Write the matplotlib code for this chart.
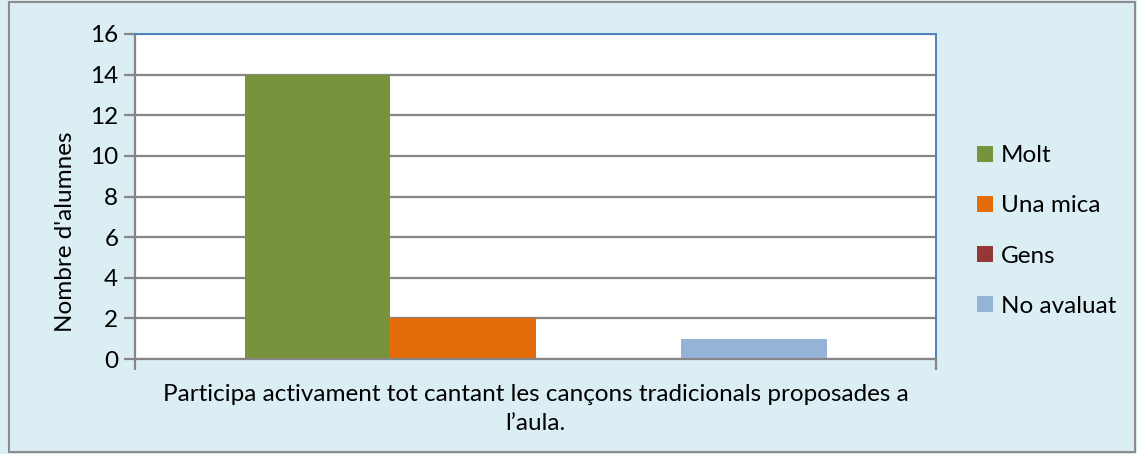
import matplotlib.pyplot as plt
from matplotlib.patches import Rectangle

# data
categoria = "Participa activament tot cantant les cançons tradicionals proposades a\nl’aula."
series = ["Molt", "Una mica", "Gens", "No avaluat"]
valors = [14, 2, 0, 1]
colors = ["#77933C", "#E46C0A", "#953735", "#95B3D7"]

plt.rcParams['font.family'] = ['Lato', 'DejaVu Sans']
fs = 17.5

fig = plt.figure(figsize=(11.37, 4.54), dpi=100)
fig.patch.set_facecolor("#DBEEF4")
# outer frame of the chart
fig.patches.append(Rectangle((9 / 1137, 2 / 454), 1126 / 1137, 450 / 454, transform=fig.transFigure,
                             fill=False, edgecolor="#8C8C8C", linewidth=1.5))

ax = fig.add_axes([135 / 1137, 1 - 359 / 454, 801 / 1137, 325 / 454])
ax.set_facecolor("white")

w = 145.5 / 801
for i, (nom, v, c) in enumerate(zip(series, valors, colors)):
    ax.bar(0.5 + (i - 1.5) * w, v, width=w, color=c, label=nom, zorder=3)

ax.set_xlim(0, 1)
ax.set_ylim(0, 16)
ax.set_yticks(range(0, 17, 2))
ax.yaxis.grid(True, color="#868686", linewidth=1.6, zorder=0)
ax.set_xticks([0.5])
ax.set_xticklabels([categoria], fontsize=fs, linespacing=1.5)
ax.set_xticks([0, 1], minor=True)
ax.tick_params(axis='x', which='major', length=0, pad=18)
ax.tick_params(axis='x', which='minor', length=8, width=1.6, color="#868686")
ax.tick_params(axis='y', length=8, width=1.6, color="#868686", labelsize=fs, pad=4)
ax.set_ylabel("Nombre d'alumnes", fontsize=fs)
ax.yaxis.set_label_coords(-0.074, 0.39)

ax.spines['left'].set_color("#868686")
ax.spines['bottom'].set_color("#868686")
ax.spines['left'].set_linewidth(1.6)
ax.spines['bottom'].set_linewidth(1.6)
ax.spines['bottom'].set_zorder(4)
ax.spines['top'].set_color("#4F81BD")
ax.spines['right'].set_color("#4F81BD")
ax.spines['top'].set_linewidth(1.4)
ax.spines['right'].set_linewidth(1.4)

fig.legend(loc='center left', bbox_to_anchor=(955 / 1137, 1 - 231 / 454), frameon=False,
           fontsize=fs, handlelength=0.65, handleheight=0.65, handletextpad=0.35, labelspacing=1.2)

fig.savefig("out.png", dpi=100, facecolor=fig.get_facecolor())
